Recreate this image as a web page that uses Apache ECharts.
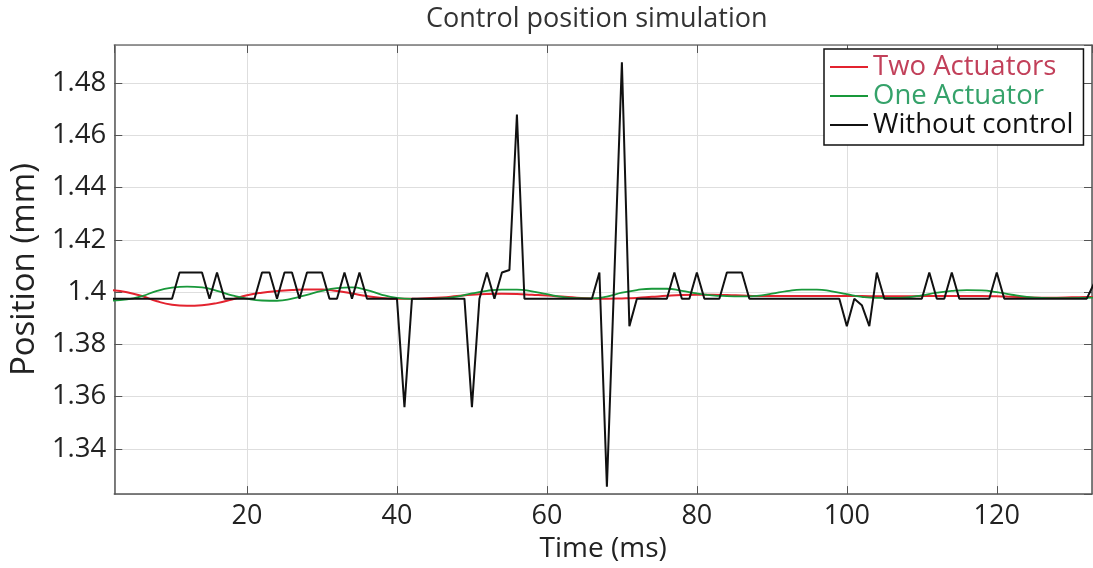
<!DOCTYPE html>
<html>
<head>
<meta charset="utf-8">
<script src="https://cdn.jsdelivr.net/npm/echarts@6/dist/echarts.min.js"></script>
<style>
  html, body { margin: 0; padding: 0; background: #fff; }
  #chart { width: 1093px; height: 568px; }
</style>
</head>
<body>
<div id="chart"></div>
<script>
// Two Actuators (red), sampled every 2 ms
var twoTime = [2, 4, 6, 8, 10, 12, 14, 16, 18, 20, 22, 24, 26, 28, 30, 32, 34, 36, 38, 40, 42, 44, 46, 48, 50,
  52, 54, 56, 58, 60, 62, 64, 66, 68, 70, 72, 74, 76, 78, 80, 82, 84, 86, 88, 90, 92, 94, 96, 98, 100,
  102, 104, 106, 108, 110, 112, 114, 116, 118, 120, 122, 124, 126, 128, 130, 132, 134];
var twoPos = [1.4008, 1.4000, 1.3985, 1.3965, 1.3952, 1.3948, 1.3950, 1.3958, 1.3972, 1.3988, 1.3998, 1.4004,
  1.4008, 1.4010, 1.4010, 1.4004, 1.3995, 1.3985, 1.3978, 1.3975, 1.3975, 1.3977, 1.3980, 1.3985, 1.3990,
  1.3993, 1.3994, 1.3993, 1.3990, 1.3987, 1.3983, 1.3979, 1.3976, 1.3975, 1.3976, 1.3978, 1.3982, 1.3986,
  1.3989, 1.3990, 1.3990, 1.3989, 1.3987, 1.3985, 1.3985, 1.3985, 1.3985, 1.3985, 1.3985, 1.3985,
  1.3985, 1.3984, 1.3984, 1.3984, 1.3985, 1.3985, 1.3985, 1.3985, 1.3985, 1.3984, 1.3982, 1.3980,
  1.3979, 1.3979, 1.3980, 1.3981, 1.3982];

// One Actuator (green), sampled every 2 ms
var oneTime = twoTime;
var onePos = [1.3968, 1.3972, 1.3985, 1.4005, 1.4017, 1.4021, 1.4018, 1.4005, 1.3988, 1.3975, 1.3968, 1.3967,
  1.3975, 1.3990, 1.4005, 1.4015, 1.4018, 1.4008, 1.3990, 1.3978, 1.3974, 1.3974, 1.3976, 1.3983, 1.3995,
  1.4005, 1.4010, 1.4010, 1.4003, 1.3992, 1.3982, 1.3977, 1.3976, 1.3983, 1.3998, 1.4008, 1.4013, 1.4013,
  1.4005, 1.3995, 1.3988, 1.3985, 1.3984, 1.3986, 1.3994, 1.4004, 1.4010, 1.4010, 1.4003, 1.3992,
  1.3982, 1.3978, 1.3978, 1.3980, 1.3988, 1.3998, 1.4005, 1.4008, 1.4007, 1.4000, 1.3990, 1.3982,
  1.3978, 1.3977, 1.3977, 1.3978, 1.3980];

// Without control (black), vertices of the polyline
var freeTime = [2, 10, 11, 14, 15, 16, 17, 21, 22, 23, 24, 25, 26, 27, 28, 30, 31, 32, 33, 34, 35, 36,
  40, 41, 42, 49, 50, 51, 52, 53, 54, 55, 56, 57, 66, 67, 68, 70, 71, 72, 76, 77, 78, 79, 80, 81,
  83, 84, 86, 87, 99, 100, 101, 102, 103, 104, 105, 110, 111, 112, 113, 114, 115, 119, 120, 121, 132, 133];
var freePos = [1.3975, 1.3975, 1.4075, 1.4075, 1.3975, 1.4075, 1.3975, 1.3975, 1.4075, 1.4075, 1.3975,
  1.4075, 1.4075, 1.3975, 1.4075, 1.4075, 1.3975, 1.3975, 1.4075, 1.3975, 1.4075, 1.3975,
  1.3975, 1.3560, 1.3975, 1.3975, 1.3560, 1.3975, 1.4075, 1.3975, 1.4075, 1.4085, 1.4680, 1.3975,
  1.3975, 1.4075, 1.3255, 1.4880, 1.3870, 1.3975, 1.3975, 1.4075, 1.3975, 1.3975, 1.4075, 1.3975,
  1.3975, 1.4075, 1.4075, 1.3975, 1.3975, 1.3870, 1.3975, 1.3950, 1.3870, 1.4075, 1.3975,
  1.3975, 1.4075, 1.3975, 1.3975, 1.4075, 1.3975, 1.3975, 1.4075, 1.3975, 1.3975, 1.4035];

function pairs(xs, ys) {
  return xs.map(function (x, i) { return [x, ys[i]]; });
}

var font = 'Open Sans';
var tickStyle = { show: true, inside: true, length: 8, lineStyle: { color: '#555', width: 1 } };
var lineStyleAxis = { show: true, lineStyle: { color: '#555', width: 1.5 } };

var option = {
  animation: false,
  backgroundColor: '#fff',
  title: {
    text: 'Control position simulation',
    left: 426,
    top: 6,
    padding: 0,
    textStyle: { fontFamily: font, fontSize: 27, fontWeight: 'normal', color: '#333' }
  },
  legend: {
    orient: 'vertical',
    left: 824,
    top: 49,
    padding: [4, 10, 6, 6],
    itemGap: 1,
    itemWidth: 38,
    itemHeight: 2,
    icon: 'rect',
    borderColor: '#111',
    borderWidth: 1.5,
    backgroundColor: '#fff',
    textStyle: { fontFamily: font, fontSize: 27.5, lineHeight: 27 },
    data: [
      { name: 'Two Actuators', textStyle: { color: '#c2405a' } },
      { name: 'One Actuator', textStyle: { color: '#35a26a' } },
      { name: 'Without control', textStyle: { color: '#111' } }
    ]
  },
  grid: { left: 111, right: 1, top: 45, bottom: 70 },
  xAxis: [
    {
      type: 'value',
      min: 2.3,
      max: 132.7,
      splitNumber: 6,
      name: 'Time (ms)',
      nameLocation: 'middle',
      nameGap: 37,
      nameTextStyle: { fontFamily: font, fontSize: 28, color: '#222' },
      axisLine: lineStyleAxis,
      axisTick: tickStyle,
      axisLabel: { fontFamily: font, fontSize: 27, color: '#222', margin: 9, showMinLabel: false, showMaxLabel: false },
      splitLine: { show: true, lineStyle: { color: '#dedede', width: 1 } }
    },
    {
      type: 'value',
      position: 'top',
      min: 2.3,
      max: 132.7,
      splitNumber: 6,
      axisLine: { show: true, lineStyle: { color: '#777', width: 1.5 } },
      axisTick: tickStyle,
      axisLabel: { show: false },
      splitLine: { show: false }
    }
  ],
  yAxis: [
    {
      type: 'value',
      min: 1.3227,
      max: 1.4946,
      splitNumber: 8,
      name: 'Position (mm)',
      nameLocation: 'middle',
      nameGap: 72,
      nameTextStyle: { fontFamily: font, fontSize: 33, color: '#222' },
      axisLine: lineStyleAxis,
      axisTick: tickStyle,
      axisLabel: { fontFamily: font, fontSize: 27.5, color: '#222', margin: 8, showMinLabel: false, showMaxLabel: false },
      splitLine: { show: true, lineStyle: { color: '#dedede', width: 1 } }
    },
    {
      type: 'value',
      position: 'right',
      min: 1.3227,
      max: 1.4946,
      splitNumber: 8,
      axisLine: lineStyleAxis,
      axisTick: tickStyle,
      axisLabel: { show: false },
      splitLine: { show: false }
    }
  ],
  series: [
    {
      name: 'Two Actuators',
      type: 'line',
      smooth: true,
      symbol: 'none',
      color: '#e3232f',
      lineStyle: { width: 2 },
      z: 2,
      data: pairs(twoTime, twoPos)
    },
    {
      name: 'One Actuator',
      type: 'line',
      smooth: true,
      symbol: 'none',
      color: '#18983a',
      lineStyle: { width: 1.8 },
      z: 3,
      data: pairs(oneTime, onePos)
    },
    {
      name: 'Without control',
      type: 'line',
      symbol: 'none',
      color: '#111',
      lineStyle: { width: 2 },
      z: 4,
      data: pairs(freeTime, freePos)
    }
  ]
};

var chart = echarts.init(document.getElementById('chart'));
chart.setOption(option);
</script>
</body>
</html>
